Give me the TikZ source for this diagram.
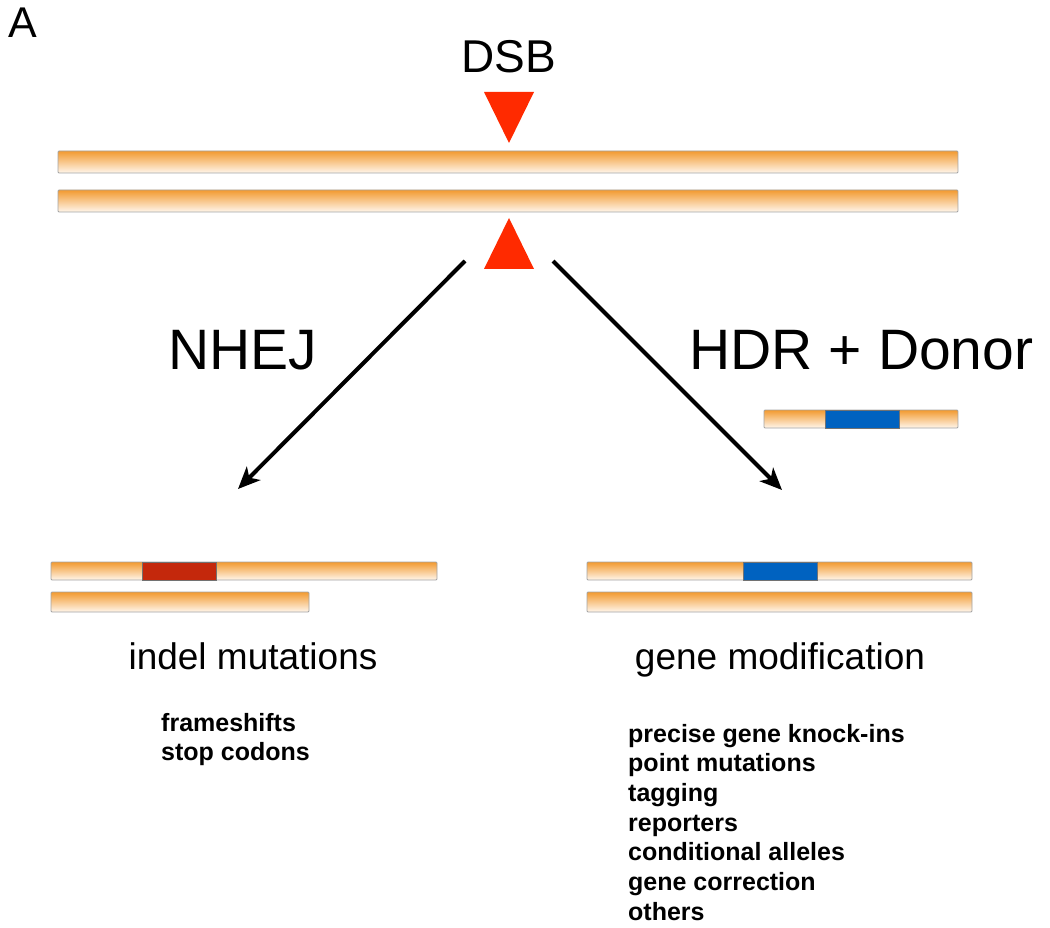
\documentclass[tikz,border=0pt]{standalone}
\usepackage{fontspec}
\setmainfont{Liberation Sans}
\usetikzlibrary{arrows.meta}
\definecolor{dsbred}{HTML}{FF2A00}
\definecolor{strandorange}{HTML}{F29A30}
\definecolor{strandpale}{HTML}{FFF6EC}
\definecolor{edgegrey}{HTML}{A3A3A3}
\definecolor{indelred}{HTML}{C4280C}
\definecolor{donorblue}{HTML}{0062C0}
\tikzset{
  strand/.style={draw=edgegrey, line width=0.9pt, top color=strandorange, bottom color=strandpale,
    inner sep=0pt, outer sep=0pt, anchor=north west, rounded corners=1pt},
  block/.style={draw=edgegrey!70!black, line width=0.6pt, inner sep=0pt, outer sep=0pt, anchor=north west},
  cut/.style={fill=dsbred},
  pathway/.style={line width=4pt, -{Stealth[length=22pt,width=19pt,inset=6pt]}},
  bigtext/.style={anchor=base, inner sep=0pt, font=\fontsize{57}{60}\selectfont},
  midtext/.style={anchor=base, inner sep=0pt, font=\fontsize{37}{40}\selectfont},
  listtext/.style={anchor=base west, inner sep=0pt, font=\bfseries\fontsize{25}{28}\selectfont},
}
\begin{document}
\begin{tikzpicture}[x=1pt,y=-1pt]
\useasboundingbox (0,0) rectangle (1050,928);
% panel label and DSB
\node[anchor=base west, inner sep=0pt, font=\fontsize{43}{46}\selectfont] (panel) at (8,38) {A};
\node[anchor=base, inner sep=0pt, font=\fontsize{46}{50}\selectfont] (dsb) at (509,73) {DSB};
% top double strand
\node[strand, minimum width=900pt, minimum height=22pt] (top1) at (58,151) {};
\node[strand, minimum width=900pt, minimum height=22pt] (top2) at (58,190) {};
% cut triangles
\fill[cut] (484,92) -- (534,92) -- (509,143) -- cycle;
\fill[cut] (484,269) -- (534,269) -- (509,218) -- cycle;
% arrows
\coordinate (lstart) at (465,261);
\coordinate (lend) at (238,489);
\coordinate (rstart) at (553,261);
\coordinate (rend) at (782,490);
\draw[pathway] (lstart) -- (lend);
\draw[pathway] (rstart) -- (rend);
% pathway labels
\node[bigtext] (nhej) at (242.5,369) {NHEJ};
\node[bigtext] (hdr) at (861.5,369) {HDR + Donor};
% donor
\node[strand, minimum width=194pt, minimum height=18pt] (donor) at (764,410) {};
\node[block, fill=donorblue, minimum width=74pt, minimum height=18pt] (donorins) at (825,410) {};
% NHEJ result
\node[strand, minimum width=386pt, minimum height=18pt] (left1) at (51,562) {};
\node[block, fill=indelred, minimum width=74pt, minimum height=18pt] (indel) at (142,562) {};
\node[strand, minimum width=258pt, minimum height=20pt] (left2) at (51,592) {};
% HDR result
\node[strand, minimum width=385pt, minimum height=18pt] (right1) at (587,562) {};
\node[block, fill=donorblue, minimum width=74pt, minimum height=18pt] (knockin) at (743,562) {};
\node[strand, minimum width=385pt, minimum height=20pt] (right2) at (587,592) {};
% outcome labels
\node[midtext] (indellabel) at (253,669) {indel mutations};
\node[midtext] (genelabel) at (780,669) {gene modification};
% lists
\node[listtext] (l1) at (161,731) {frameshifts};
\node[listtext] (l2) at (161,760) {stop codons};
\node[listtext] (r1) at (628,742) {precise gene knock-ins};
\node[listtext] (r2) at (628,771.7) {point mutations};
\node[listtext] (r3) at (628,801.4) {tagging};
\node[listtext] (r4) at (628,831.1) {reporters};
\node[listtext] (r5) at (628,860.8) {conditional alleles};
\node[listtext] (r6) at (628,890.5) {gene correction};
\node[listtext] (r7) at (628,920.2) {others};
\end{tikzpicture}
\end{document}
